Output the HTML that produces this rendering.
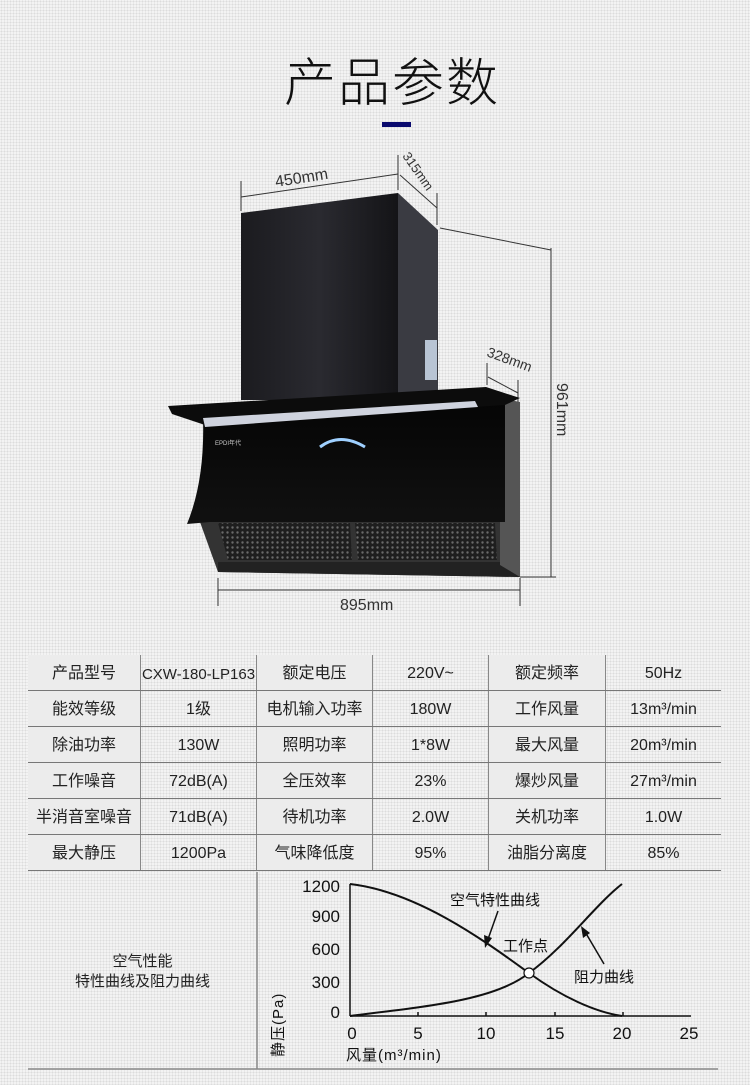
<!DOCTYPE html>
<html><head><meta charset="utf-8"><style>
html,body{margin:0;padding:0}
body{width:750px;height:1085px;position:relative;overflow:hidden;background-color:#f3f3f3;background-image:radial-gradient(#dcdcdc 0.8px,transparent 0.9px);background-size:3px 3px;font-family:"Liberation Sans","Noto Sans CJK SC",sans-serif;color:#222}
.t{position:absolute;white-space:nowrap}
table{position:absolute;left:28px;top:655px;border-collapse:collapse}
td{height:35px;border-bottom:1.5px solid #777;text-align:center;font-size:16px;line-height:20px;color:#222;padding:0;vertical-align:middle}
td span{display:inline-block;line-height:20px;height:20px;vertical-align:middle;position:relative;top:2px}
td.l{background:#ececec}
td+td{border-left:1.5px solid #888}
</style></head><body>
<div class="t" style="left:284px;top:41px;font-size:52px;font-family:'Noto Sans CJK SC',sans-serif;font-weight:300;color:#111;letter-spacing:2px">产品参数</div>
<div class="t" style="left:382px;top:122px;width:29px;height:5px;background:#0a0a6e"></div>

<svg style="position:absolute;left:0;top:0" width="750" height="650">
<defs>
<linearGradient id="ch" x1="0" x2="1"><stop offset="0" stop-color="#1b1b1f"/><stop offset="0.5" stop-color="#2a2a30"/><stop offset="1" stop-color="#141417"/></linearGradient>
<linearGradient id="fr" x1="0" x2="0" y1="0" y2="1"><stop offset="0" stop-color="#050505"/><stop offset="1" stop-color="#111"/></linearGradient>
<pattern id="mesh" width="5" height="5" patternUnits="userSpaceOnUse"><rect width="5" height="5" fill="#1e1e1e"/><circle cx="2.5" cy="2.5" r="1.2" fill="#6a6a6a"/></pattern>
</defs>
<g stroke="#333" stroke-width="1" fill="none">
<line x1="241" y1="197" x2="398" y2="174"/><line x1="241" y1="181" x2="241" y2="211"/><line x1="398" y1="155" x2="398" y2="190"/>
<line x1="400" y1="175" x2="437" y2="208"/><line x1="437" y1="193" x2="437" y2="225"/>
<line x1="440" y1="228" x2="551" y2="250"/><line x1="551" y1="248" x2="551" y2="577"/><line x1="520" y1="577" x2="556" y2="577"/>
<line x1="218" y1="590" x2="520" y2="590"/><line x1="218" y1="578" x2="218" y2="606"/><line x1="520" y1="578" x2="520" y2="606"/>
<line x1="488" y1="377" x2="518" y2="393"/><line x1="487" y1="363" x2="487" y2="385"/><line x1="518" y1="380" x2="518" y2="402"/>
</g>
<text x="276" y="187" font-size="16" fill="#333" transform="rotate(-9 276 187)" font-family="Liberation Sans">450mm</text>
<text x="402" y="156" font-size="13" fill="#333" transform="rotate(55 402 156)" font-family="Liberation Sans">315mm</text>
<text x="486" y="356" font-size="14" fill="#333" transform="rotate(20 486 356)" font-family="Liberation Sans">328mm</text>
<text x="557" y="383" font-size="16" fill="#333" transform="rotate(90 557 383)" font-family="Liberation Sans">961mm</text>
<text x="340" y="610" font-size="16" fill="#333" font-family="Liberation Sans">895mm</text>
<polygon points="241,213 398,193 398,400 241,400" fill="url(#ch)"/>
<polygon points="398,193 438,230 438,390 398,400" fill="#3a3b42"/>
<rect x="425" y="340" width="12" height="40" fill="#b8c4d4"/>
<polygon points="200,522 518,522 520,577 218,572" fill="#333"/>
<polygon points="218,523 350,523 352,560 228,560" fill="url(#mesh)"/>
<polygon points="355,523 495,523 497,560 358,560" fill="url(#mesh)"/>
<polygon points="218,562 518,562 520,577 218,572" fill="#222"/>
<polygon points="500,398 520,402 520,577 500,565" fill="#555"/>
<path d="M203,418 L505,403 L505,522 L210,522 L187,524 Q205,480 203,418 Z" fill="url(#fr)"/>
<polygon points="168,406 486,387 520,398 505,405 205,425 172,414" fill="#0c0c0c"/>
<polygon points="203,418 475,401 478,407 205,427" fill="#cfd3de"/>
<path d="M320,447 Q340,432 365,447" stroke="#9fd0ff" stroke-width="3" fill="none"/>
<text x="215" y="445" font-size="6" fill="#ccc">EPDI年代</text>
</svg>

<table>
<tr><td class="l" style="width:112px"><span>产品型号</span></td><td style="width:115px;font-size:15px"><span>CXW-180-LP163</span></td><td class="l" style="width:115px"><span>额定电压</span></td><td style="width:115px"><span>220V~</span></td><td class="l" style="width:116px"><span>额定频率</span></td><td style="width:115px"><span>50Hz</span></td></tr>
<tr><td class="l"><span>能效等级</span></td><td><span>1级</span></td><td class="l"><span>电机输入功率</span></td><td><span>180W</span></td><td class="l"><span>工作风量</span></td><td><span>13m³/min</span></td></tr>
<tr><td class="l"><span>除油功率</span></td><td><span>130W</span></td><td class="l"><span>照明功率</span></td><td><span>1*8W</span></td><td class="l"><span>最大风量</span></td><td><span>20m³/min</span></td></tr>
<tr><td class="l"><span>工作噪音</span></td><td><span>72dB(A)</span></td><td class="l"><span>全压效率</span></td><td><span>23%</span></td><td class="l"><span>爆炒风量</span></td><td><span>27m³/min</span></td></tr>
<tr><td class="l"><span>半消音室噪音</span></td><td><span>71dB(A)</span></td><td class="l"><span>待机功率</span></td><td><span>2.0W</span></td><td class="l"><span>关机功率</span></td><td><span>1.0W</span></td></tr>
<tr><td class="l"><span>最大静压</span></td><td><span>1200Pa</span></td><td class="l"><span>气味降低度</span></td><td><span>95%</span></td><td class="l"><span>油脂分离度</span></td><td><span>85%</span></td></tr>
</table>

<div class="t" style="left:28px;top:952px;width:229px;text-align:center;font-size:15px;line-height:20px">空气性能<br>特性曲线及阻力曲线</div>
<svg style="position:absolute;left:0;top:860px" width="750" height="225" font-family="Liberation Sans,Noto Sans CJK SC,sans-serif">
<line x1="257" y1="12" x2="257" y2="209" stroke="#888" stroke-width="1.5"/>
<line x1="28" y1="209" x2="718" y2="209" stroke="#888" stroke-width="1.5"/>
<g stroke="#111" stroke-width="1.5" fill="none">
<line x1="350" y1="24" x2="350" y2="156"/><line x1="350" y1="156" x2="691" y2="156"/>
<line x1="418" y1="152" x2="418" y2="156"/><line x1="486" y1="152" x2="486" y2="156"/><line x1="555" y1="152" x2="555" y2="156"/><line x1="623" y1="152" x2="623" y2="156"/>
<path d="M350,24 C420,32 490,85 529,113 C562,137 595,152 622,156" stroke-width="2"/>
<path d="M350,156 C430,146 495,140 529,113 C565,87 595,45 622,24" stroke-width="2"/>
<line x1="498" y1="51" x2="487" y2="82"/><line x1="604" y1="104" x2="584" y2="70"/>
</g>
<polygon points="485,88 484,75 492,78" fill="#111"/>
<polygon points="581,66 583,78 590,73" fill="#111"/>
<circle cx="529" cy="113" r="5" fill="#fff" stroke="#111" stroke-width="1.2"/>
<g font-size="17" fill="#111" text-anchor="end">
<text x="340" y="32">1200</text><text x="340" y="62">900</text><text x="340" y="95">600</text><text x="340" y="128">300</text><text x="340" y="158">0</text>
</g>
<g font-size="17" fill="#111" text-anchor="middle">
<text x="352" y="179">0</text><text x="418" y="179">5</text><text x="486" y="179">10</text><text x="555" y="179">15</text><text x="622" y="179">20</text><text x="689" y="179">25</text>
</g>
<g font-size="15" fill="#111">
<text x="450" y="45">空气特性曲线</text><text x="503" y="91">工作点</text><text x="574" y="122">阻力曲线</text>
<text x="346" y="200" letter-spacing="1">风量(m³/min)</text>
<text x="0" y="0" transform="translate(283,197) rotate(-90)" letter-spacing="1">静压(Pa)</text>
</g>
</svg>
</body></html>
